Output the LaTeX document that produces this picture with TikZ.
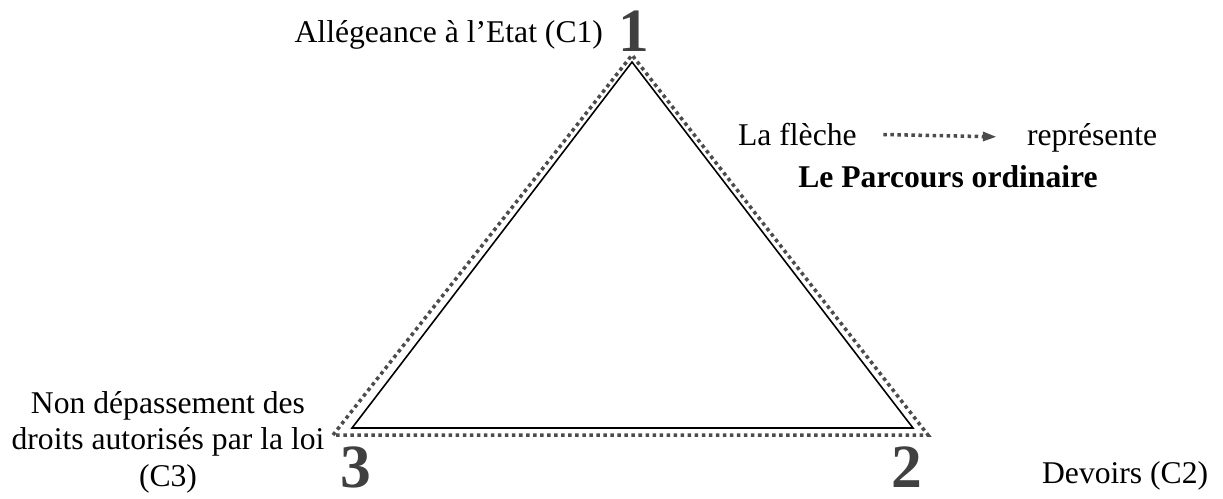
\documentclass[tikz,border=0pt]{standalone}
\usepackage{fontspec}
\setmainfont{Liberation Serif}
\usetikzlibrary{arrows.meta,positioning}

\begin{document}
\begin{tikzpicture}[
  x=0.2mm, y=-0.2mm, >={Triangle[length=8pt,width=5pt]},
  every node/.style={font=\fontsize{18}{20.7}\selectfont},
  label/.style={align=center, inner sep=1pt},
  corner/.style={font=\fontsize{35}{37}\selectfont\bfseries, text=black!75,
                 inner sep=0pt},
  route/.style={line width=2pt, black!70, dash pattern=on 2pt off 2pt}
]
  \useasboundingbox (0,0) rectangle (1223,498);

  % sommets
  \coordinate (c1) at (632,62);
  \coordinate (c2) at (913,428);
  \coordinate (c3) at (352,428);
  \coordinate (o1) at (632,55);
  \coordinate (o2) at (928,435);
  \coordinate (o3) at (333,435);

  \draw[route] (o3) -- (o1) -- (o2) -- cycle;
  \draw[line width=0.9pt] (c3) -- (c1) -- (c2) -- cycle;

  \node[corner] (n1) at (634,31) {1};
  \node[corner] (n2) at (907,467) {2};
  \node[corner] (n3) at (356,467) {3};

  \node[label, anchor=base east] (allegeance) at (605,42) {Allégeance à l’Etat (C1)};
  \node[label, anchor=base] (depassement) at (168,486)
    {Non dépassement des\\droits autorisés par la loi\\(C3)};
  \node[label, anchor=base west] (devoirs) at (1040,483) {Devoirs (C2)};

  % legende
  \node[label, anchor=base west] (fleche) at (736,145) {La flèche};
  \node[label, anchor=base west] (represente) at (1025,145) {représente};
  \node[label, anchor=base, font=\fontsize{18}{20.7}\selectfont\bfseries] (parcours)
    at (948,187) {Le Parcours ordinaire};
  \draw[->, route, shorten <=14pt, shorten >=16pt] (fleche.east) -- (represente.west);
\end{tikzpicture}
\end{document}
